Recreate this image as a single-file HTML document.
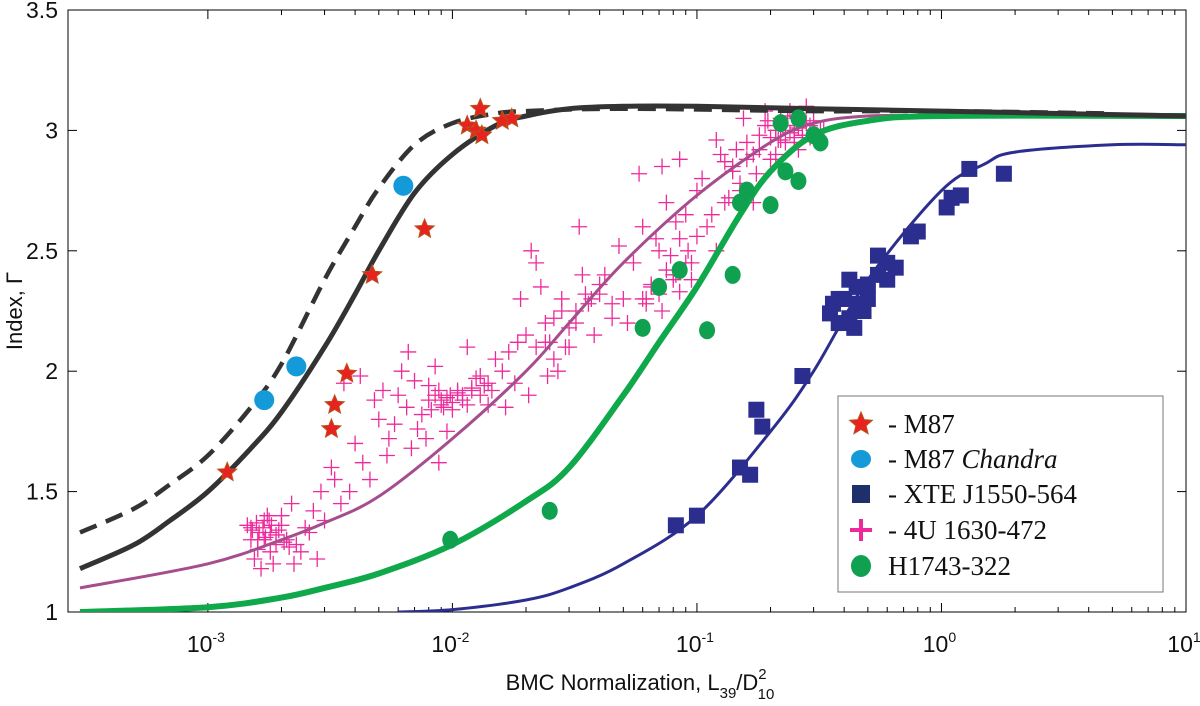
<!DOCTYPE html>
<html><head><meta charset="utf-8">
<style>
body{margin:0;background:#fff;}
svg{display:block;font-family:"Liberation Sans",sans-serif;}
</style></head>
<body>
<svg id="chart" width="1200" height="706" viewBox="0 0 1200 706" xmlns="http://www.w3.org/2000/svg">
<g id="plot"></g>
</svg>
<script>
const xTicks=[-3,-2,-1,0,1];
const yTicks=[1,1.5,2,2.5,3,3.5];
const yTickLabels=["1","1.5","2","2.5","3","3.5"];
const curveSolidX=[3e-4,5e-4,7e-4,1e-3,1.5e-3,2e-3,3e-3,4e-3,5e-3,7e-3,1e-2,1.5e-2,2e-2,3e-2,5e-2,0.1,0.3,1,3,10];
const curveSolidY=[1.18,1.28,1.38,1.5,1.68,1.83,2.1,2.32,2.5,2.74,2.9,3.02,3.06,3.09,3.1,3.1,3.09,3.08,3.07,3.06];
const curveDashX=[3e-4,5e-4,7e-4,1e-3,1.5e-3,2e-3,3e-3,4e-3,5e-3,7e-3,1e-2,1.5e-2,2e-2,5e-2,0.3,1,5];
const curveDashY=[1.33,1.43,1.53,1.65,1.85,2.03,2.38,2.6,2.76,2.94,3.03,3.07,3.08,3.09,3.08,3.08,3.07];
const curveMagX=[3e-4,1e-3,2e-3,3e-3,5e-3,1e-2,2e-2,3e-2,5e-2,0.1,0.2,0.3,0.5,1,10];
const curveMagY=[1.1,1.2,1.3,1.37,1.48,1.72,2.0,2.2,2.45,2.73,2.95,3.03,3.06,3.06,3.06];
const curveGreenX=[3e-4,1e-3,2e-3,3e-3,5e-3,1e-2,2e-2,3e-2,5e-2,7e-2,0.1,0.15,0.2,0.3,0.5,1,10];
const curveGreenY=[1.0,1.02,1.06,1.1,1.16,1.28,1.46,1.6,1.9,2.12,2.35,2.65,2.83,2.98,3.04,3.06,3.06];
const curveBlueX=[6e-3,1e-2,2e-2,3e-2,5e-2,0.1,0.2,0.3,0.5,1,1.5,2,5,10];
const curveBlueY=[1.0,1.01,1.05,1.1,1.2,1.4,1.75,2.0,2.38,2.75,2.86,2.91,2.94,2.94];
const m87X=[1.2e-3,3.2e-3,3.3e-3,3.7e-3,4.7e-3,7.7e-3,1.15e-2,1.25e-2,1.3e-2,1.32e-2,1.6e-2,1.75e-2];
const m87Y=[1.58,1.76,1.86,1.99,2.40,2.59,3.02,3.0,3.09,2.98,3.04,3.05];
const chandraX=[1.7e-3,2.3e-3,6.3e-3];
const chandraY=[1.88,2.02,2.77];
const xteX=[0.082,0.1,0.15,0.165,0.175,0.185,0.27,0.35,0.38,0.4,0.42,0.45,0.5,0.55,0.6,0.65,0.75,0.8,1.05,1.1,1.2,1.3,1.8,0.38,0.42,0.45,0.5,0.55,0.6,0.48,0.36,0.44];
const xteY=[1.36,1.40,1.60,1.57,1.84,1.77,1.98,2.24,2.2,2.3,2.22,2.35,2.3,2.4,2.45,2.43,2.56,2.58,2.68,2.72,2.73,2.84,2.82,2.3,2.38,2.28,2.36,2.48,2.38,2.25,2.28,2.18];
const hX=[0.0098,0.025,0.06,0.07,0.085,0.11,0.14,0.15,0.16,0.2,0.23,0.26,0.22,0.26,0.3,0.32];
const hY=[1.3,1.42,2.18,2.35,2.42,2.17,2.4,2.7,2.75,2.69,2.83,2.79,3.03,3.05,2.98,2.95];
const pinkX=[1.5e-3,1.6e-3,1.7e-3,1.8e-3,1.9e-3,2.0e-3,1.55e-3,1.75e-3,2.1e-3,2.3e-3,2.5e-3,2.7e-3,3.0e-3,1.65e-3,1.85e-3,2.2e-3,2.4e-3,2.6e-3,2.9e-3,3.3e-3,3.5e-3,1.9e-3,2.0e-3,2.8e-3,3.2e-3,
3.8e-3,4.0e-3,4.3e-3,4.6e-3,5.0e-3,5.5e-3,6.0e-3,6.5e-3,3.6e-3,4.2e-3,4.8e-3,5.2e-3,5.8e-3,7e-3,7.5e-3,8e-3,9e-3,1.0e-2,1.1e-2,6.2e-3,6.8e-3,7.2e-3,8.5e-3,9.5e-3,1.2e-2,1.3e-2,1.4e-2,1.5e-2,5.4e-3,6.6e-3,7.8e-3,8.8e-3,1.05e-2,1.15e-2,
1.6e-2,1.7e-2,1.8e-2,2.0e-2,2.2e-2,2.4e-2,2.6e-2,2.8e-2,3.0e-2,1.65e-2,1.9e-2,2.1e-2,2.3e-2,2.5e-2,2.7e-2,3.2e-2,3.4e-2,3.6e-2,3.8e-2,4.0e-2,2.2e-2,2.45e-2,2.9e-2,3.3e-2,3.7e-2,4.2e-2,4.5e-2,4.8e-2,1.85e-2,2.05e-2,
5.0e-2,5.5e-2,6.0e-2,6.5e-2,7.0e-2,7.5e-2,8.0e-2,8.5e-2,9.0e-2,0.1,0.11,0.12,0.13,5.2e-2,5.8e-2,6.2e-2,6.8e-2,7.2e-2,7.8e-2,8.2e-2,9.5e-2,0.105,0.115,0.125,0.135,0.085,0.095,
0.14,0.15,0.16,0.17,0.18,0.19,0.2,0.21,0.22,0.23,0.24,0.25,0.27,0.29,0.31,0.33,0.145,0.155,0.175,0.195,0.215,0.235,0.26,0.28,0.3,0.17,0.19,0.21,0.25,0.12,0.13,
1.45e-3,1.52e-3,1.58e-3,1.62e-3,1.68e-3,1.72e-3,1.78e-3,1.82e-3,1.95e-3,2.05e-3,2.15e-3,2.25e-3,1.5e-3,1.6e-3,1.7e-3,1.8e-3,
8e-3,8.5e-3,9e-3,9.5e-3,1.0e-2,1.05e-2,1.1e-2,1.2e-2,1.3e-2,1.4e-2,8.2e-3,8.8e-3,9.2e-3,9.8e-3,1.15e-2,1.25e-2,1.35e-2,1.45e-2,
2.4e-2,2.6e-2,2.8e-2,3.0e-2,3.2e-2,3.5e-2,4.0e-2,4.5e-2,
6e-2,6.5e-2,7e-2,7.5e-2,8e-2,8.5e-2,9e-2,6.2e-2,7.2e-2,8.2e-2,9.2e-2,0.1,
0.2,0.21,0.22,0.23,0.24,0.25,0.26,0.27,0.28,0.29,0.3,0.32,0.18,0.16,0.14,0.15];
const pinkY=[1.35,1.3,1.38,1.25,1.32,1.36,1.22,1.4,1.3,1.28,1.35,1.42,1.38,1.18,1.2,1.45,1.25,1.33,1.5,1.55,1.45,1.28,1.4,1.22,1.6,
1.5,1.7,1.62,1.55,1.8,1.72,1.9,1.85,1.95,1.98,1.88,1.92,1.78,1.96,1.82,1.94,1.88,1.84,1.9,2.0,1.68,1.76,2.02,1.75,1.92,1.98,1.86,2.05,1.65,2.08,1.72,1.62,1.92,2.1,
2.0,2.08,1.95,2.15,2.1,2.2,2.05,2.25,2.18,1.85,2.3,2.5,2.35,2.12,2.0,2.2,2.4,2.28,2.15,2.32,2.45,1.98,2.1,2.6,2.3,2.4,2.22,2.52,2.12,1.9,
2.3,2.45,2.6,2.35,2.5,2.7,2.4,2.55,2.65,2.75,2.6,2.5,2.7,2.2,2.82,2.3,2.55,2.85,2.48,2.62,2.45,2.8,2.65,2.9,2.72,2.88,2.38,
2.85,2.75,2.95,2.9,2.98,3.02,2.88,3.0,3.05,2.95,3.08,3.0,2.98,3.02,2.98,3.0,2.92,3.05,2.82,3.04,2.96,3.06,2.92,3.1,3.0,2.7,3.08,2.9,2.97,2.96,2.87,
1.36,1.34,1.37,1.33,1.35,1.31,1.38,1.36,1.34,1.29,1.27,1.2,1.3,1.26,1.3,1.33,
1.88,1.9,1.86,1.89,1.87,1.91,1.88,1.93,1.9,1.95,1.84,1.92,1.85,1.9,1.86,1.97,1.94,1.92,
2.12,2.22,2.3,2.1,2.25,2.32,2.36,2.28,
2.3,2.36,2.32,2.42,2.38,2.33,2.45,2.28,2.25,2.4,2.5,2.56,
2.97,3.0,2.96,3.02,2.99,2.95,3.01,2.98,3.03,2.97,3.04,3.0,2.92,2.88,2.83,2.78];

const L=68,R=1186,T=10,B=612;
const lx0=-3.572,lx1=1;
function sx(v){return L+(Math.log10(v)-lx0)/(lx1-lx0)*(R-L);}
function sy(v){return B-(v-1)/2.5*(B-T);}
const NS="http://www.w3.org/2000/svg";
const svg=document.getElementById('chart');
const g=document.getElementById('plot');
function mk(tag,attrs,parent){const e=document.createElementNS(NS,tag);for(const k in attrs)e.setAttribute(k,attrs[k]);(parent||g).appendChild(e);return e;}

let fr=mk('rect',{x:L,y:T,width:R-L,height:B-T,fill:'none',stroke:'#000','stroke-width':1});


xTicks.forEach(p=>{
  for(let m=1;m<10;m++){
    const v=Math.pow(10,p)*m; if(Math.log10(v)<lx0||Math.log10(v)>lx1+1e-9)continue;
    const x=sx(v),len=m===1?9:5;
    let t=mk('line',{x1:x,x2:x,y1:B,y2:B-len,stroke:'#000','stroke-width':1});
    
    
    let t2=mk('line',{x1:x,x2:x,y1:T,y2:T+len,stroke:'#000','stroke-width':1});
    
    
  }
  const x=sx(Math.pow(10,p));
  let lb=mk('text',{x:x-2,y:652,'font-size':23,'text-anchor':'middle',fill:'#111'});
  
  
  lb.textContent='10';
  let sp=mk('tspan',{dy:-10,'font-size':14},lb); sp.textContent=String(p);
});
yTicks.forEach((v,i)=>{
  const y=sy(v);
  let t=mk('line',{x1:L,x2:L+9,y1:y,y2:y,stroke:'#000'});
  
  
  let t2=mk('line',{x1:R,x2:R-9,y1:y,y2:y,stroke:'#000'});
  
  
  let lb=mk('text',{x:58,y:y+8,'font-size':23,'text-anchor':'end',fill:'#111'});
  
  
  lb.textContent=yTickLabels[i];
});
let xt=mk('text',{x:640,y:690,'font-size':22,'text-anchor':'middle',fill:'#111'});


xt.innerHTML='BMC Normalization, L<tspan dy="8" font-size="15">39</tspan><tspan dy="-8">/D</tspan><tspan dy="-11" font-size="15">2</tspan><tspan dx="-9" dy="20" font-size="15">10</tspan>';
let yt=mk('text',{x:22,y:311,'font-size':22,'text-anchor':'middle',fill:'#111',transform:'rotate(-90 22 311)'});


yt.textContent='Index, Γ';

const defs=mk('defs',{},svg);
const cp=mk('clipPath',{id:'clip'},defs);
mk('rect',{x:L,y:T,width:R-L,height:B-T},cp);
const pg=mk('g',{'clip-path':'url(#clip)'});



function line(xs,ys,stroke,w,name,dash){
  const P=xs.map((x,i)=>[sx(x),sy(ys[i])]);
  let d='M'+P[0][0].toFixed(1)+','+P[0][1].toFixed(1);
  for(let i=0;i<P.length-1;i++){
    const p0=P[Math.max(0,i-1)],p1=P[i],p2=P[i+1],p3=P[Math.min(P.length-1,i+2)];
    const c1=[p1[0]+(p2[0]-p0[0])/6,p1[1]+(p2[1]-p0[1])/6];
    const c2=[p2[0]-(p3[0]-p1[0])/6,p2[1]-(p3[1]-p1[1])/6];
    d+='C'+c1[0].toFixed(1)+','+c1[1].toFixed(1)+' '+c2[0].toFixed(1)+','+c2[1].toFixed(1)+' '+p2[0].toFixed(1)+','+p2[1].toFixed(1);
  }
  const a={d:d,fill:'none',stroke:stroke,'stroke-width':w,'stroke-linejoin':'round'};
  if(dash)a['stroke-dasharray']=dash;
  const p=mk('path',a,pg);
  
  
}
function star(cx,cy,r,parent,name){
  let pts=[];for(let k=0;k<10;k++){const a=-Math.PI/2+k*Math.PI/5,rr=k%2?r*0.45:r;pts.push((cx+rr*Math.cos(a)).toFixed(1)+','+(cy+rr*Math.sin(a)).toFixed(1));}
  const p=mk('polygon',{points:pts.join(' '),fill:'#e8231f',stroke:'#b8521a','stroke-width':1},parent);
  
  
}
function cross(cx,cy,s,col,parent,name,w){
  const p=mk('path',{d:`M${cx-s},${cy}H${cx+s}M${cx},${cy-s}V${cy+s}`,stroke:col,'stroke-width':w||1.3,fill:'none'},parent);
  
  
}

pinkX.forEach((x,i)=>cross(sx(x),sy(pinkY[i]),8,'#ee2a9b',pg,'point-4u1630'));
line(curveMagX,curveMagY,'#a64d8e',3,'curve-4u1630');
line(curveGreenX,curveGreenY,'#0fa84a',6,'curve-h1743');
line(curveBlueX,curveBlueY,'#2b2e8e',3,'curve-xte');
line(curveDashX,curveDashY,'#333',4.5,'curve-m87-dashed','18,10');
line(curveSolidX,curveSolidY,'#333',5,'curve-m87-solid');
hX.forEach((x,i)=>{const c=mk('ellipse',{cx:sx(x),cy:sy(hY[i]),rx:8,ry:9,fill:'#0fa050'},pg);
  
  });
xteX.forEach((x,i)=>{const c=mk('rect',{x:sx(x)-8,y:sy(xteY[i])-8,width:16,height:16,fill:'#2b2e8e'},pg);
  
  });
chandraX.forEach((x,i)=>{const c=mk('ellipse',{cx:sx(x),cy:sy(chandraY[i]),rx:10,ry:10,fill:'#149ad8'},pg);
  
  });
m87X.forEach((x,i)=>star(sx(x),sy(m87Y[i]),10,pg,'point-m87'));

const lg=mk('g',{});


const lb=mk('rect',{x:838,y:396,width:325,height:196,fill:'#fff',stroke:'#777','stroke-width':1},lg);


const ly=[424,459,494,530,566];
const lt=['- M87','- M87 <tspan font-style="italic">Chandra</tspan>','- XTE J1550-564','- 4U 1630-472','H1743-322'];
star(861,ly[0],12,lg,'legend-marker-m87');
let m2=mk('ellipse',{cx:861,cy:ly[1],rx:10,ry:9,fill:'#149ad8'},lg);


let m3=mk('rect',{x:852,y:ly[2]-9,width:18,height:18,fill:'#1f2f6b'},lg);


cross(861,ly[3],11,'#ee2a9b',lg,'legend-marker-4u1630',4);
let m5=mk('ellipse',{cx:861,cy:ly[4],rx:10,ry:11,fill:'#0fa050'},lg);


lt.forEach((s,i)=>{const t=mk('text',{x:888,y:ly[i]+9,'font-size':27,'font-family':'"Liberation Serif",serif',fill:'#111'},lg);
  
  
  t.innerHTML=s;});
</script>
</body></html>
